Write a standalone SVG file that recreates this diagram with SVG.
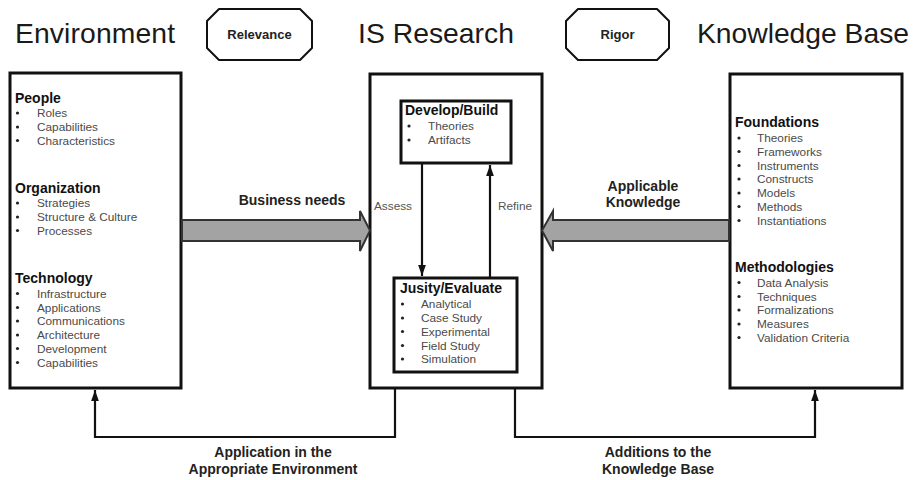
<svg xmlns="http://www.w3.org/2000/svg" width="914" height="480" viewBox="0 0 914 480">
  <style>
    .title { font-family: "Liberation Sans", Arial, sans-serif; font-size: 28.3px; fill: #1a1a1a; }
    .tag { font-family: "Liberation Sans", Arial, sans-serif; font-size: 13px; font-weight: bold; fill: #222; text-anchor: middle; }
    .head { font-family: "Liberation Sans", Arial, sans-serif; font-size: 14px; font-weight: bold; fill: #111; }
    .item { font-family: "Liberation Sans", Arial, sans-serif; font-size: 11.8px; fill: #4a4a4a; }
    .dot { fill: #222; }
    .lbl { font-family: "Liberation Sans", Arial, sans-serif; font-size: 14px; font-weight: bold; fill: #222; text-anchor: middle; }
    .small { font-family: "Liberation Sans", Arial, sans-serif; font-size: 11.8px; fill: #555; }
    .box { fill: #fff; stroke: #111; stroke-width: 3; }
    .inner { fill: #fff; stroke: #111; stroke-width: 3; }
    .oct { fill: #fff; stroke: #111; stroke-width: 2; stroke-linejoin: round; }
    .wire { fill: none; stroke: #111; stroke-width: 2.2; }
    .fat { fill: #a3a3a3; stroke: #333; stroke-width: 2; stroke-linejoin: miter; }
  </style>
  <defs>
    <marker id="head" viewBox="0 0 10 10" refX="10" refY="5" markerWidth="5" markerHeight="5" orient="auto" markerUnits="strokeWidth">
      <path d="M0,1.5 L10,5 L0,8.5 z" fill="#111"/>
    </marker>
  </defs>

  <!-- column titles -->
  <text class="title" x="15" y="43" textLength="160">Environment</text>
  <text class="title" x="358" y="43" textLength="156">IS Research</text>
  <text class="title" x="697" y="43" textLength="212">Knowledge Base</text>

  <g id="relevance">
    <polygon class="oct" points="219,9 300,9 312,21 312,48 300,60 219,60 207,48 207,21"/>
    <text class="tag" x="259.5" y="39">Relevance</text>
  </g>
  <g id="rigor">
    <polygon class="oct" points="578,9 657,9 669,21 669,48 657,60 578,60 566,48 566,21"/>
    <text class="tag" x="617.5" y="39">Rigor</text>
  </g>

  <!-- Environment -->
  <g id="environment">
    <rect class="box" x="10" y="73" width="171" height="315"/>
    <text class="head" x="15" y="103">People</text>
    <g class="item">
      <text x="37" y="117">Roles</text>
      <text x="37" y="131">Capabilities</text>
      <text x="37" y="144.5">Characteristics</text>
    </g>
    <text class="head" x="15" y="193">Organization</text>
    <g class="item">
      <text x="37" y="207">Strategies</text>
      <text x="37" y="221">Structure &amp; Culture</text>
      <text x="37" y="234.5">Processes</text>
    </g>
    <text class="head" x="15" y="283">Technology</text>
    <g class="item">
      <text x="37" y="297.5">Infrastructure</text>
      <text x="37" y="311.5">Applications</text>
      <text x="37" y="325">Communications</text>
      <text x="37" y="339">Architecture</text>
      <text x="37" y="352.5">Development</text>
      <text x="37" y="366.5">Capabilities</text>
    </g>
    <g class="dot">
      <circle cx="17.5" cy="113" r="1.6"/><circle cx="17.5" cy="127" r="1.6"/><circle cx="17.5" cy="140.5" r="1.6"/>
      <circle cx="17.5" cy="203" r="1.6"/><circle cx="17.5" cy="217" r="1.6"/><circle cx="17.5" cy="230.5" r="1.6"/>
      <circle cx="17.5" cy="293.5" r="1.6"/><circle cx="17.5" cy="307.5" r="1.6"/><circle cx="17.5" cy="321" r="1.6"/>
      <circle cx="17.5" cy="335" r="1.6"/><circle cx="17.5" cy="348.5" r="1.6"/><circle cx="17.5" cy="362.5" r="1.6"/>
    </g>
  </g>

  <!-- IS Research -->
  <g id="is-research">
    <rect class="box" x="370" y="74" width="172" height="314"/>
  </g>

  <g id="develop-build">
    <rect class="inner" x="401" y="101" width="110" height="62"/>
    <text class="head" x="405" y="115">Develop/Build</text>
    <g class="item">
      <text x="428" y="130">Theories</text>
      <text x="428" y="144">Artifacts</text>
    </g>
    <g class="dot"><circle cx="409" cy="126" r="1.6"/><circle cx="409" cy="140" r="1.6"/></g>
  </g>

  <g id="justify-evaluate">
    <rect class="inner" x="394" y="278" width="123" height="94"/>
    <text class="head" x="400" y="293">Jusity/Evaluate</text>
    <g class="item">
      <text x="421" y="308">Analytical</text>
      <text x="421" y="322">Case Study</text>
      <text x="421" y="335.5">Experimental</text>
      <text x="421" y="349.5">Field Study</text>
      <text x="421" y="363">Simulation</text>
    </g>
    <g class="dot">
      <circle cx="402.5" cy="304" r="1.6"/><circle cx="402.5" cy="318" r="1.6"/><circle cx="402.5" cy="331.5" r="1.6"/>
      <circle cx="402.5" cy="345.5" r="1.6"/><circle cx="402.5" cy="359" r="1.6"/>
    </g>
  </g>

  <!-- Knowledge Base -->
  <g id="knowledge-base">
    <rect class="box" x="730" y="74" width="172" height="314"/>
    <text class="head" x="735" y="127">Foundations</text>
    <g class="item">
      <text x="757" y="142">Theories</text>
      <text x="757" y="155.5">Frameworks</text>
      <text x="757" y="169.5">Instruments</text>
      <text x="757" y="183">Constructs</text>
      <text x="757" y="197">Models</text>
      <text x="757" y="210.5">Methods</text>
      <text x="757" y="224.5">Instantiations</text>
    </g>
    <text class="head" x="735" y="272">Methodologies</text>
    <g class="item">
      <text x="757" y="286.5">Data Analysis</text>
      <text x="757" y="300.5">Techniques</text>
      <text x="757" y="314">Formalizations</text>
      <text x="757" y="328">Measures</text>
      <text x="757" y="341.5">Validation Criteria</text>
    </g>
    <g class="dot">
      <circle cx="739" cy="138" r="1.6"/><circle cx="739" cy="151.5" r="1.6"/><circle cx="739" cy="165.5" r="1.6"/>
      <circle cx="739" cy="179" r="1.6"/><circle cx="739" cy="193" r="1.6"/><circle cx="739" cy="206.5" r="1.6"/>
      <circle cx="739" cy="220.5" r="1.6"/>
      <circle cx="739" cy="282.5" r="1.6"/><circle cx="739" cy="296.5" r="1.6"/><circle cx="739" cy="310" r="1.6"/>
      <circle cx="739" cy="324" r="1.6"/><circle cx="739" cy="337.5" r="1.6"/>
    </g>
  </g>

  <!-- connectors -->
  <g id="connectors">
    <!-- business needs: environment to research -->
    <polygon class="fat" points="182,220 360,220 360,211 370,230.5 360,251 360,241 182,241"/>
    <text class="lbl" x="292" y="205">Business needs</text>

    <!-- applicable knowledge: knowledge base to research -->
    <polygon class="fat" points="729,220 553,220 553,211 542,230.5 553,251 553,241 729,241"/>
    <text class="lbl" x="643" y="191">Applicable</text>
    <text class="lbl" x="643" y="207">Knowledge</text>

    <!-- assess / refine loop -->
    <line class="wire" x1="422" y1="164" x2="422" y2="276" marker-end="url(#head)"/>
    <line class="wire" x1="490" y1="277" x2="490" y2="165" marker-end="url(#head)"/>
    <text class="small" x="374" y="210">Assess</text>
    <text class="small" x="498" y="210">Refine</text>

    <!-- application back to environment -->
    <polyline class="wire" points="395,389 395,437 95,437 95,390" marker-end="url(#head)"/>
    <text class="lbl" x="273" y="457">Application in the</text>
    <text class="lbl" x="273" y="474">Appropriate Environment</text>

    <!-- additions to knowledge base -->
    <polyline class="wire" points="515,389 515,437 815,437 815,390" marker-end="url(#head)"/>
    <text class="lbl" x="658" y="457">Additions to the</text>
    <text class="lbl" x="658" y="474">Knowledge Base</text>
  </g>
</svg>
